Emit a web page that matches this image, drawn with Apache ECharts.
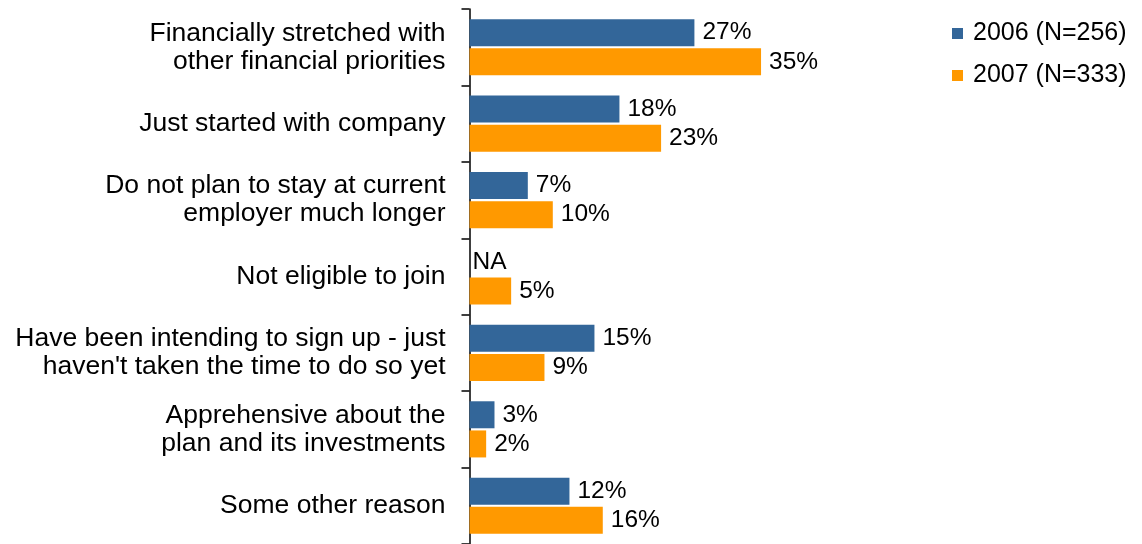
<!DOCTYPE html>
<html>
<head>
<meta charset="utf-8">
<script src="https://cdn.jsdelivr.net/npm/echarts@6/dist/echarts.min.js"></script>
<style>
  html, body { margin: 0; padding: 0; background: #fff; }
  #chart { width: 1142px; height: 544px; }
</style>
</head>
<body>
<div id="chart"></div>
<script>
// Reasons for not joining the plan, share of respondents (%)
const categories = [
  'Financially stretched with\nother financial priorities',
  'Just started with company',
  'Do not plan to stay at current\nemployer much longer',
  'Not eligible to join',
  'Have been intending to sign up - just\nhaven\'t taken the time to do so yet',
  'Apprehensive about the\nplan and its investments',
  'Some other reason'
];
const seriesNames = ['2006 (N=256)', '2007 (N=333)'];
// null = not asked that year (shown as NA)
const values2006 = [27, 18, 7, null, 15, 3, 12];
const values2007 = [35, 23, 10, 5, 9, 2, 16];

const FONT = '"Liberation Sans", Arial, sans-serif';

function toData(arr) {
  return arr.map(v => v === null
    ? { value: 0, label: { formatter: 'NA', distance: 3 } }
    : v);
}

const valueLabel = {
  show: true,
  position: 'right',
  distance: 8,
  fontSize: 24.5,
  color: '#000',
  fontFamily: FONT,
  formatter: p => p.value + '%'
};

const chart = echarts.init(document.getElementById('chart'), null, { renderer: 'canvas' });

chart.setOption({
  animation: false,
  backgroundColor: '#ffffff',
  textStyle: { fontFamily: FONT },
  legend: {
    orient: 'vertical',
    left: 952,
    top: 21,
    padding: 0,
    itemWidth: 11,
    itemHeight: 11,
    itemGap: 17,
    icon: 'rect',
    textStyle: { fontSize: 25, color: '#000', fontFamily: FONT, padding: [0, 0, 0, 5] },
    data: seriesNames
  },
  grid: { left: 469.5, right: 256, top: 9, bottom: 0, containLabel: false },
  xAxis: {
    type: 'value',
    min: 0,
    max: 50,
    show: false
  },
  yAxis: {
    type: 'category',
    inverse: true,
    data: categories,
    axisLine: { show: true, lineStyle: { color: '#000', width: 1.5 } },
    axisTick: { show: true, length: 8, lineStyle: { color: '#000', width: 1.5 } },
    axisLabel: {
      fontSize: 26.5,
      color: '#000',
      fontFamily: FONT,
      lineHeight: 28,
      align: 'right',
      margin: 24
    }
  },
  series: [
    {
      name: seriesNames[0],
      type: 'bar',
      data: toData(values2006),
      barWidth: 27,
      barGap: '8%',
      itemStyle: { color: '#336699' },
      label: valueLabel
    },
    {
      name: seriesNames[1],
      type: 'bar',
      data: toData(values2007),
      barWidth: 27,
      itemStyle: { color: '#FF9900' },
      label: valueLabel
    }
  ]
});
</script>
</body>
</html>
